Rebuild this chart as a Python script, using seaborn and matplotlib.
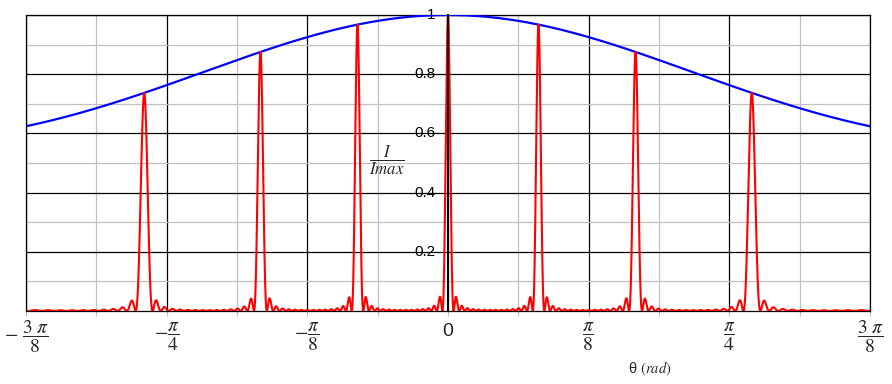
import numpy as np
import pandas as pd
import matplotlib
matplotlib.use("Agg")
import matplotlib.pyplot as plt
import matplotlib.transforms as mtransforms
import seaborn as sns

# ---- parameters ----
# principal maxima at sin(theta) = 0, 0.25, 0.5, 0.75  -> slit spacing d = 4 lambda
SPACING_OVER_LAMBDA = 4.0
# envelope value ~0.62 at theta = 3pi/8, ~0.73 at the 3rd order peak -> slit width a ~ 0.4 lambda
WIDTH_OVER_LAMBDA = 0.4
# width of the principal peaks -> about 16 slits
SLIT_COUNT = 16

x_tick_values = [-3 * np.pi / 8, -np.pi / 4, -np.pi / 8, 0, np.pi / 8, np.pi / 4, 3 * np.pi / 8]
x_tick_labels = [r"$-\ \dfrac{3\ \pi}{8}$", r"$-\dfrac{\pi}{4}$", r"$-\dfrac{\pi}{8}$", "0",
                 r"$\dfrac{\pi}{8}$", r"$\dfrac{\pi}{4}$", r"$\dfrac{3\ \pi}{8}$"]
y_tick_values = [0.2, 0.4, 0.6, 0.8, 1.0]
y_tick_labels = ["0.2", "0.4", "0.6", "0.8", "1"]

theta = np.linspace(-3 * np.pi / 8, 3 * np.pi / 8, 12001)
s = np.sin(theta)
beta = np.pi * WIDTH_OVER_LAMBDA * s
envelope = np.sinc(beta / np.pi) ** 2
alpha = np.pi * SPACING_OVER_LAMBDA * s
num = np.sin(SLIT_COUNT * alpha)
den = SLIT_COUNT * np.sin(alpha)
with np.errstate(invalid="ignore", divide="ignore"):
    ratio = np.where(np.abs(den) < 1e-12, 1.0, num / den)
intensity = envelope * ratio ** 2

df = pd.DataFrame({"theta": theta, "envelope": envelope, "intensity": intensity})

sns.set_style("white")
plt.rcParams["mathtext.fontset"] = "stix"
plt.rcParams["font.family"] = ["Liberation Sans", "DejaVu Sans"]

W, H = 892, 384
fig = plt.figure(figsize=(W / 100, H / 100), dpi=100)
left, right, top, bottom = 26, 870, 15, 311
ax = fig.add_axes([left / W, 1 - bottom / H, (right - left) / W, (bottom - top) / H])

ax.set_xlim(-3 * np.pi / 8, 3 * np.pi / 8)
ax.set_ylim(0, 1)

# grid
ax.set_xticks(x_tick_values)
ax.set_xticks(np.arange(-6, 7) * np.pi / 16, minor=True)
ax.set_yticks(y_tick_values)
ax.set_yticks(np.arange(0, 11) * 0.1, minor=True)
ax.grid(which="minor", color="#c0c0c0", lw=0.9, zorder=0)
ax.grid(which="major", color="black", lw=0.9, zorder=0.5)
ax.set_axisbelow(True)

sns.lineplot(data=df, x="theta", y="envelope", ax=ax, color="#0000ff", lw=1.6, zorder=3)
sns.lineplot(data=df, x="theta", y="intensity", ax=ax, color="#ff0000", lw=1.5, zorder=3)

# axis at theta = 0
ax.spines["left"].set_position(("data", 0))
ax.spines["left"].set_color("black")
ax.spines["left"].set_linewidth(1.4)
ax.spines["left"].set_zorder(4)
for sp in ["top", "right", "bottom"]:
    ax.spines[sp].set_visible(True)
    ax.spines[sp].set_color("black")
    ax.spines[sp].set_linewidth(0.9)
ax.axvline(-3 * np.pi / 8, color="black", lw=0.9, clip_on=False, zorder=4)

ax.set_yticklabels(y_tick_labels)
ax.tick_params(axis="y", which="both", length=0, pad=9, labelsize=11, labelcolor="black")
for lab in ax.get_yticklabels():
    lab.set_va("center")

ax.set_xticklabels(x_tick_labels)
ax.tick_params(axis="x", which="both", bottom=True, length=3.5, width=0.9, color="#c0c0c0",
               direction="out", labelsize=14, pad=15)
for lab in ax.get_xticklabels():
    lab.set_va("center")
zero_lab = ax.get_xticklabels()[3]
zero_lab.set_transform(zero_lab.get_transform()
                       + mtransforms.ScaledTranslation(0, 5 / 100, fig.dpi_scale_trans))

ax.set_xlabel(r"θ $(\mathit{rad})$", fontsize=10.5)
ax.xaxis.set_label_coords((650 - left) / (right - left), (bottom - 369) / (bottom - top))
ax.xaxis.label.set_va("center")
ax.set_ylabel(r"$\dfrac{I}{Imax}$", fontsize=12, rotation=0)
ax.yaxis.set_label_coords((387 - left) / (right - left), (bottom - 160) / (bottom - top))
ax.yaxis.label.set_va("center")
ax.yaxis.label.set_ha("center")

fig.savefig("out.png", dpi=100)
